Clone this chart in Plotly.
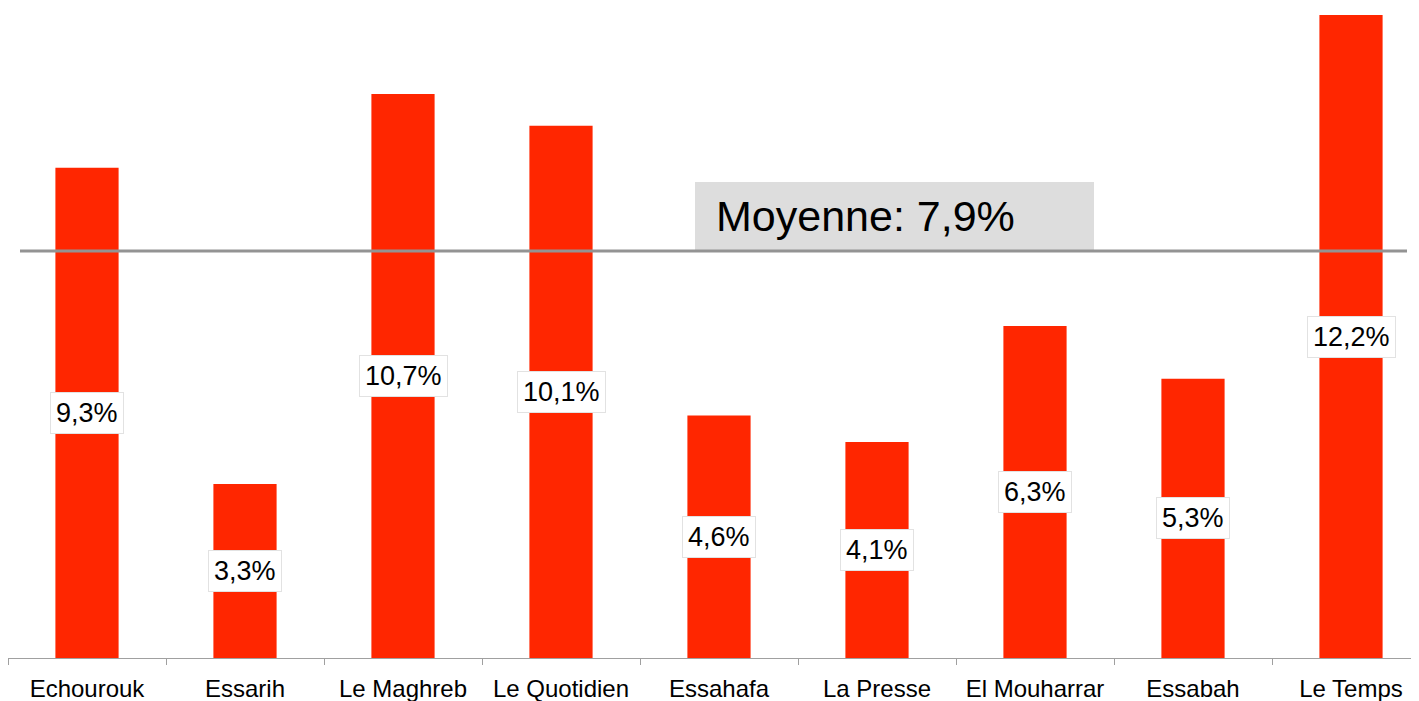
import plotly.graph_objects as go

categories = ["Echourouk", "Essarih", "Le Maghreb", "Le Quotidien", "Essahafa",
              "La Presse", "El Mouharrar", "Essabah", "Le Temps"]
values = [9.3, 3.3, 10.7, 10.1, 4.6, 4.1, 6.3, 5.3, 12.2]
value_labels = ["9,3%", "3,3%", "10,7%", "10,1%", "4,6%", "4,1%", "6,3%", "5,3%", "12,2%"]
mean_label = "Moyenne: 7,9%"
mean_line_value = 7.72  # position of the gray line

# The page body has an 8px default margin; the figure is offset by it.
OFF = 8
W, H = 1419, 701
ML, MR, MT = 0, 0, 0
BASE = 658 - OFF            # baseline inside the figure
MB = H - BASE
px_per_unit = (658 - 15) / 12.2
ymax = BASE / px_per_unit
FONT = "Liberation Sans, Arial, sans-serif"
BAR_COLOR = "#ff2600"

plot_w = W - ML - MR
cat_px = 158.0
xmax = -0.5 + plot_w / cat_px

fig = go.Figure()
fig.add_trace(go.Bar(
    x=categories, y=values, width=0.4,
    marker=dict(color=BAR_COLOR, line=dict(width=0)),
    hoverinfo="skip", showlegend=False,
))

annotations = []
for c, v, lab in zip(categories, values, value_labels):
    annotations.append(dict(
        x=c, y=v / 2, xref="x", yref="y", text=lab, showarrow=False,
        font=dict(family=FONT, size=27, color="black"),
        bgcolor="white", bordercolor="#e2e2e2", borderwidth=1, borderpad=5,
        xanchor="center", yanchor="middle",
    ))

def px_x(p):
    return (p - OFF - ML) / plot_w

box_top = mean_line_value + 69 / px_per_unit
annotations.append(dict(
    x=px_x(714), y=(mean_line_value + box_top) / 2 + 1 / px_per_unit, xref="paper", yref="y",
    text=mean_label, showarrow=False, xanchor="left", yanchor="middle",
    font=dict(family=FONT, size=43, color="black"),
))

shapes = [
    dict(type="rect", xref="paper", yref="y", x0=px_x(695), x1=px_x(1094),
         y0=mean_line_value, y1=box_top, fillcolor="#dddddd", line=dict(width=0),
         layer="above"),
    dict(type="line", xref="paper", yref="y", x0=px_x(20), x1=px_x(1407),
         y0=mean_line_value, y1=mean_line_value, line=dict(color="#939393", width=3),
         layer="above"),
]

fig.update_layout(
    width=W, height=H,
    margin=dict(l=ML, r=MR, t=MT, b=MB, pad=0),
    plot_bgcolor="white", paper_bgcolor="white",
    annotations=annotations, shapes=shapes,
    bargap=0.6,
)
fig.update_xaxes(
    type="category", range=[-0.5, xmax], tickson="boundaries",
    ticks="outside", ticklen=6, tickcolor="#a0a0a0", tickwidth=1,
    showline=True, linecolor="#a0a0a0", linewidth=1,
    showgrid=False, zeroline=False,
    tickfont=dict(family=FONT, size=24, color="black"),
    ticklabelstandoff=9,
)
fig.update_yaxes(range=[0, ymax], visible=False, showgrid=False, zeroline=False)

fig.write_html("out.html")
